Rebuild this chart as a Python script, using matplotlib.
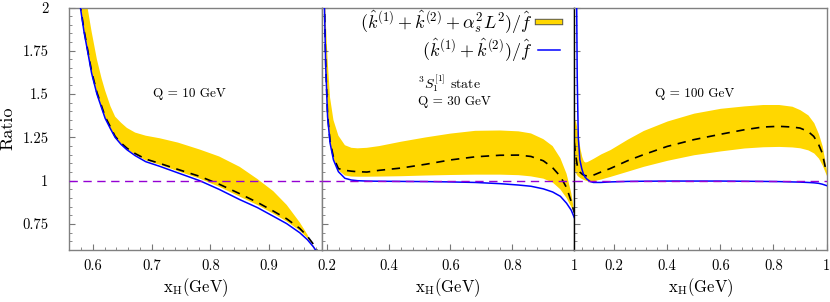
import matplotlib
matplotlib.use("Agg")
import matplotlib.pyplot as plt
from matplotlib.ticker import MultipleLocator, AutoMinorLocator, FuncFormatter
from matplotlib.lines import Line2D
import matplotlib.patheffects as pe

plt.rcParams['font.family'] = 'serif'
plt.rcParams['font.serif'] = ['cmr10']
plt.rcParams['mathtext.fontset'] = 'cm'
plt.rcParams['axes.formatter.use_mathtext'] = True

# ---- Q = 10 GeV
x10 = [0.578, 0.585, 0.591, 0.598, 0.607, 0.615, 0.621, 0.630, 0.638, 0.648, 0.658, 0.672, 0.690,
       0.714, 0.745, 0.782, 0.815, 0.850, 0.880, 0.907, 0.930, 0.952, 0.965, 0.975, 0.985]
blue10 = [2.02, 1.86, 1.75, 1.62, 1.50, 1.42, 1.36, 1.30, 1.25, 1.21, 1.179, 1.145, 1.11,
          1.083, 1.045, 1.00, 0.95, 0.891, 0.845, 0.795, 0.752, 0.70, 0.66, 0.62, 0.57]
dash10 = [2.03, 1.87, 1.76, 1.63, 1.51, 1.43, 1.37, 1.31, 1.256, 1.218, 1.188, 1.157, 1.125,
          1.10, 1.065, 1.025, 0.98, 0.925, 0.875, 0.825, 0.78, 0.725, 0.68, 0.635, 0.58]
lo10 = [2.02, 1.86, 1.75, 1.62, 1.50, 1.42, 1.36, 1.30, 1.252, 1.213, 1.183, 1.150, 1.118,
        1.092, 1.055, 1.012, 0.965, 0.908, 0.86, 0.81, 0.765, 0.712, 0.67, 0.627, 0.575]
hi10 = [2.4, 2.15, 2.0, 1.86, 1.70, 1.59, 1.52, 1.43, 1.37, 1.335, 1.305, 1.278, 1.26,
        1.245, 1.22, 1.18, 1.14, 1.08, 1.01, 0.94, 0.86, 0.76, 0.69, 0.62, 0.55]

# ---- Q = 30 GeV
x30 = [0.187, 0.193, 0.197, 0.203, 0.211, 0.222, 0.238, 0.259, 0.28, 0.30, 0.33, 0.37, 0.44,
       0.52, 0.60, 0.68, 0.76, 0.82, 0.86, 0.90, 0.93, 0.955, 0.975, 0.99, 1.0]
blue30 = [2.5, 2.0, 1.66, 1.37, 1.218, 1.12, 1.052, 1.014, 1.004, 1.0, 0.998, 0.997, 0.996,
          0.995, 0.993, 0.99, 0.983, 0.975, 0.968, 0.953, 0.935, 0.91, 0.87, 0.83, 0.787]
dash30 = [2.5, 2.01, 1.67, 1.38, 1.23, 1.135, 1.07, 1.06, 1.055, 1.052, 1.05, 1.06, 1.073,
          1.095, 1.12, 1.138, 1.147, 1.148, 1.14, 1.115, 1.075, 1.025, 0.96, 0.88, 0.815]
lo30 = [2.5, 2.0, 1.66, 1.37, 1.22, 1.125, 1.06, 1.03, 1.024, 1.023, 1.023, 1.024, 1.026,
        1.03, 1.033, 1.035, 1.035, 1.032, 1.025, 1.012, 0.99, 0.95, 0.90, 0.85, 0.815]
hi30 = [2.6, 2.15, 1.93, 1.70, 1.48, 1.35, 1.26, 1.205, 1.19, 1.187, 1.19, 1.20, 1.225,
        1.25, 1.272, 1.288, 1.29, 1.285, 1.273, 1.24, 1.20, 1.13, 1.04, 0.93, 0.82]

# ---- Q = 100 GeV
x100 = [0.05, 0.055, 0.059, 0.061, 0.065, 0.071, 0.078, 0.084, 0.09, 0.097, 0.11, 0.122, 0.15,
        0.185, 0.25, 0.31, 0.40, 0.50, 0.60, 0.69, 0.76, 0.82, 0.87, 0.90, 0.93, 0.952, 0.97,
        0.984, 1.0]
blue100 = [3.5, 2.6, 2.0, 1.6, 1.25, 1.12, 1.07, 1.04, 1.022, 1.01, 0.995, 0.99, 0.99,
           0.993, 0.996, 0.997, 0.998, 0.998, 0.998, 0.997, 0.996, 0.995, 0.993, 0.992, 0.99,
           0.988, 0.985, 0.98, 0.972]
dash100 = [1.22, 1.15, 1.11, 1.09, 1.07, 1.05, 1.04, 1.033, 1.03, 1.028, 1.028, 1.032, 1.05,
           1.07, 1.115, 1.15, 1.198, 1.237, 1.268, 1.294, 1.31, 1.314, 1.31, 1.304, 1.285,
           1.256, 1.21, 1.16, 1.045]
lo100 = [1.06, 1.045, 1.035, 1.03, 1.025, 1.018, 1.012, 1.008, 1.004, 1.0, 0.998, 1.0, 1.01,
         1.025, 1.055, 1.083, 1.118, 1.15, 1.172, 1.189, 1.196, 1.198, 1.195, 1.19, 1.178,
         1.16, 1.13, 1.09, 1.03]
hi100 = [1.36, 1.34, 1.31, 1.29, 1.25, 1.19, 1.14, 1.115, 1.108, 1.11, 1.12, 1.13, 1.155,
         1.18, 1.24, 1.29, 1.345, 1.39, 1.418, 1.432, 1.44, 1.44, 1.43, 1.41, 1.38, 1.335,
         1.27, 1.20, 1.06]

panels = [
    (x10, blue10, dash10, lo10, hi10, (0.56, 0.99), 0.1),
    (x30, blue30, dash30, lo30, hi30, (0.185, 1.0), 0.2),
    (x100, blue100, dash100, lo100, hi100, (0.05, 1.0), 0.2),
]
edges = [69.3, 322, 574.3, 826.5]

W, H = 830, 302
fig = plt.figure(figsize=(W / 100, H / 100), dpi=100)
gold = '#FFD700'
fmt = FuncFormatter(lambda v, p: '%g' % v)

axes = []
for i, (x, bl, da, lo, hi, xr, step) in enumerate(panels):
    l, r = edges[i] / W, edges[i + 1] / W
    ax = fig.add_axes([l, 1 - 250 / H, r - l, (250 - 7.5) / H])
    ax.fill_between(x, lo, hi, color=gold, lw=0, zorder=1)
    ax.plot(x, da, color='black', lw=1.2, dashes=(5, 4), zorder=2)
    ax.plot(x, bl, color='#0000ff', lw=1.1, zorder=3)
    ax.axhline(1.0, color='#9400D3', lw=1.0, dashes=(6, 4), zorder=4)
    ax.set_xlim(*xr)
    ax.set_ylim(0.6, 2.0)
    ax.xaxis.set_major_locator(MultipleLocator(step))
    ax.xaxis.set_minor_locator(AutoMinorLocator(5))
    ax.yaxis.set_major_locator(MultipleLocator(0.25))
    ax.yaxis.set_minor_locator(AutoMinorLocator(5))
    ax.xaxis.set_major_formatter(fmt)
    ax.yaxis.set_major_formatter(fmt)
    ax.tick_params(which='both', direction='in', top=False, right=False, color='#777777',
                   labelsize=10.5)
    ax.tick_params(which='major', length=4)
    ax.tick_params(which='minor', length=2.5)
    ax.tick_params(axis='y', pad=15)
    ax.tick_params(axis='x', pad=7)
    if i > 0:
        ax.tick_params(axis='y', labelleft=False)
    for s in ax.spines.values():
        s.set_color('#808080')
        s.set_linewidth(1.0)
    ax.set_xlabel(r'$\mathrm{x_H(GeV)}$', fontsize=12, labelpad=2)
    axes.append(ax)

axes[2].spines['left'].set_color('black')
axes[0].set_ylabel('Ratio', fontsize=13)
axes[0].yaxis.set_label_coords(-0.212, 0.5)

axes[0].text(0.764, 1.50, "Q = 10 GeV", fontsize=9.5, ha='center', va='center')
axes[1].text(0.496, 1.565, r"$^3S_1^{[1]}$ state", fontsize=10, ha='left', va='center')
axes[1].text(0.496, 1.455, "Q = 30 GeV", fontsize=9.5, ha='left', va='center')
axes[2].text(0.502, 1.50, "Q = 100 GeV", fontsize=9.5, ha='center', va='center')

h1 = Line2D([], [], color=gold, lw=3.2,
            path_effects=[pe.Stroke(linewidth=4.6, foreground='#555555'), pe.Normal()])
h2 = Line2D([], [], color='#0000ff', lw=1.1)
axes[1].legend([h1, h2],
               [r'$(\hat{k}^{(1)}+\hat{k}^{(2)}+\alpha_s^2L^2)/\hat{f}$',
                r'$(\hat{k}^{(1)}+\hat{k}^{(2)})/\hat{f}$'],
               loc='upper right', bbox_to_anchor=(0.943, 0.995), frameon=False,
               markerfirst=False, fontsize=13, handlelength=1.2, handletextpad=0.3,
               labelspacing=0.05, borderpad=0, borderaxespad=0)

fig.savefig('out.png', dpi=100)
